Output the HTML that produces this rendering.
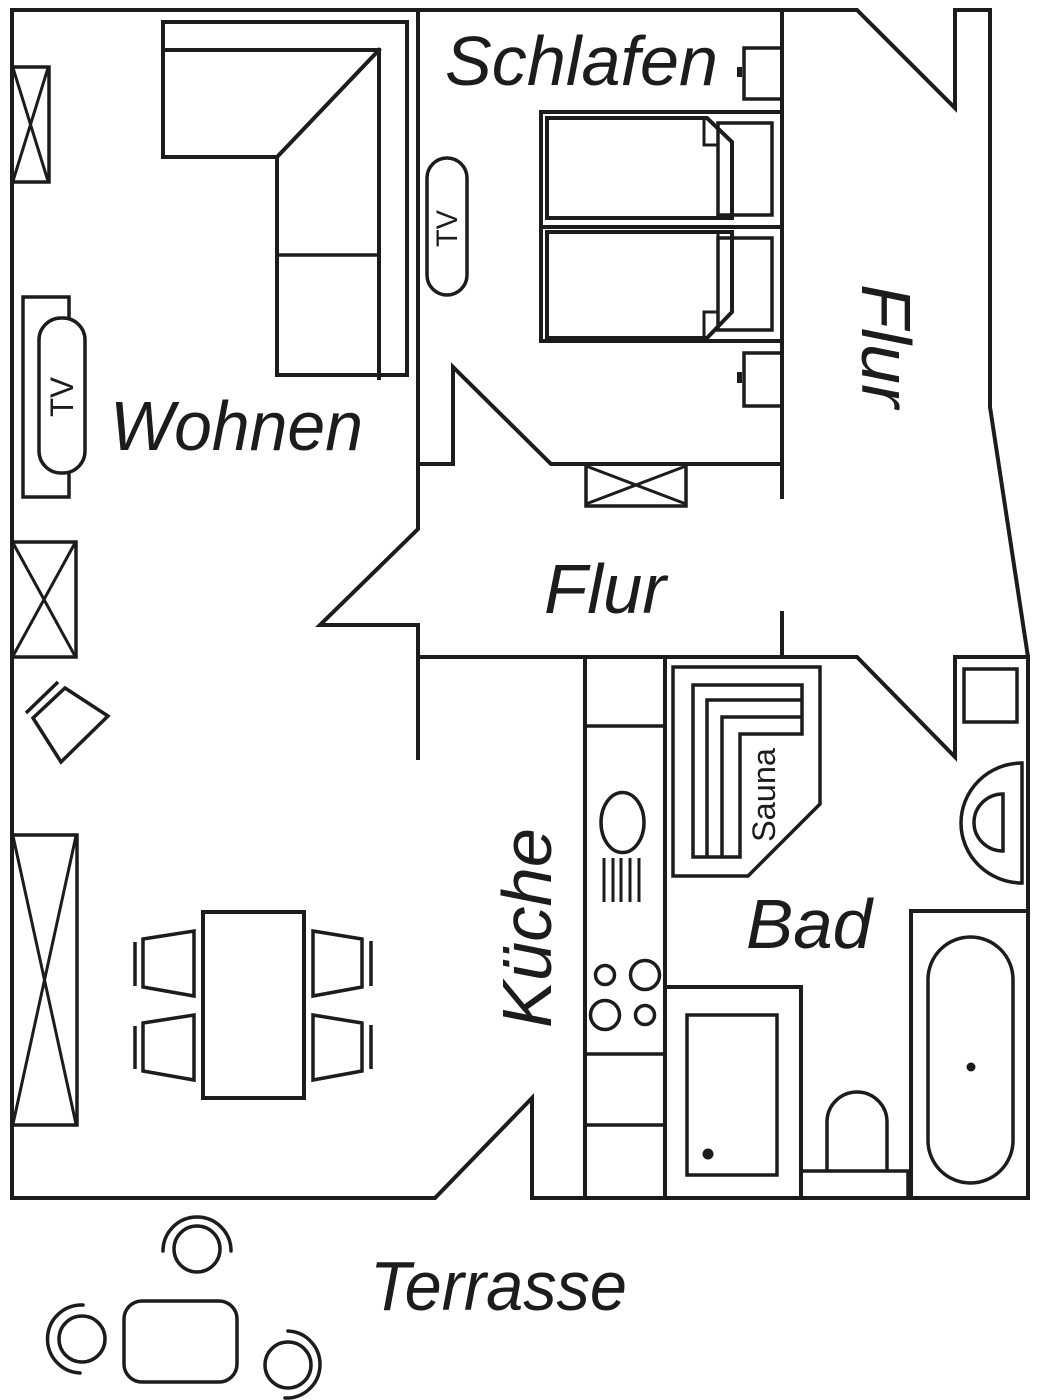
<!DOCTYPE html>
<html>
<head>
<meta charset="utf-8">
<style>
  html,body{margin:0;padding:0;background:#fff;}
  svg{display:block;}
  .w{fill:none;stroke:#1c1c1c;stroke-width:4;stroke-linejoin:miter;stroke-linecap:square;}
  .f{fill:none;stroke:#1c1c1c;stroke-width:3.5;stroke-linejoin:miter;}
  .t{fill:#1c1c1c;stroke:none;}
  .lbl{font-family:"Liberation Sans",Arial,sans-serif;font-style:italic;font-size:70px;fill:#1c1c1c;}
  .sm{font-family:"Liberation Sans",Arial,sans-serif;font-size:32px;fill:#1c1c1c;}
</style>
</head>
<body>
<svg width="1039" height="1400" viewBox="0 0 1039 1400" xmlns="http://www.w3.org/2000/svg">
  <rect x="0" y="0" width="1039" height="1400" fill="#fff"/>

  <!-- Outer walls -->
  <path class="w" d="M12,10 H857 L955,108 V10 H990 V407 L1028,657 V1198 H532 V1098 L435,1198 H12 Z"/>

  <!-- Interior walls -->
  <path class="w" d="M418,10 V529 L320,625 H418 V758"/>
  <path class="w" d="M418,464 H453 V367 L551,464 H782"/>
  <path class="w" d="M782,14 V497"/>
  <path class="w" d="M782,613 V657"/>
  <path class="w" d="M418,657 H857 L955,757 V657 H1028"/>

  <!-- Kitchen counter -->
  <path class="w" d="M585,657 V1198"/>
  <path class="w" d="M665,657 V1198"/>
  <path class="f" d="M585,726 H665 M585,1054 H665 M585,1125 H665"/>
  <ellipse class="f" cx="622.5" cy="822.5" rx="21.5" ry="30"/>
  <path class="f" style="stroke-width:3" d="M604,858 V902 M613,858 V902 M621,858 V902 M630,858 V902 M639,858 V902"/>
  <circle class="f" cx="605" cy="975" r="9.5"/>
  <circle class="f" cx="645" cy="975" r="14.5"/>
  <circle class="f" cx="605" cy="1015" r="14.5"/>
  <circle class="f" cx="645" cy="1015" r="9.5"/>

  <!-- Sauna -->
  <path class="f" d="M673,667 H820 V804 L748,876 H673 Z"/>
  <path class="f" d="M693,857 V685 H802 V734 H740 V857 Z"/>
  <path class="f" d="M707,857 V700 H802"/>
  <path class="f" d="M722,857 V717 H802"/>
  <text class="sm" transform="translate(775,842) rotate(-90)" textLength="94" lengthAdjust="spacingAndGlyphs">Sauna</text>

  <!-- Bad: square, sink -->
  <rect class="f" x="964" y="669" width="53" height="53"/>
  <path class="f" d="M1022,763 A61,60 0 0 0 1022,883 Z"/>
  <path class="f" d="M1003,794 A29,28.5 0 0 0 1003,851 Z"/>

  <!-- Shower -->
  <path class="w" d="M665,987 H801 V1198"/>
  <rect class="f" x="687" y="1015" width="90" height="160"/>
  <circle class="t" cx="708" cy="1154" r="5.5"/>

  <!-- Toilet -->
  <path class="f" d="M801,1171 H908 V1198"/>
  <path class="f" d="M827,1171 V1122 A30,30 0 0 1 887,1122 V1171"/>

  <!-- Bathtub -->
  <path class="w" d="M911,1198 V911 H1028"/>
  <rect class="f" x="928" y="937" width="85" height="246" rx="42.5" ry="42.5"/>
  <circle class="t" cx="971" cy="1067" r="4.5"/>

  <!-- Schlafen furniture -->
  <rect class="f" x="744" y="48" width="38" height="51"/>
  <rect class="t" x="737" y="67" width="5" height="10"/>
  <rect class="f" x="744" y="353" width="38" height="53"/>
  <rect class="t" x="737" y="372" width="5" height="11"/>
  <rect class="w" x="541" y="112" width="241" height="229"/>
  <path class="w" d="M541,227 H782"/>
  <!-- bed 1 -->
  <path class="w" d="M547,118 H707 L732,142 V218 H547 Z"/>
  <path class="f" style="stroke-width:3" d="M704,118 V145 H718 V218"/>
  <rect class="f" x="718" y="123" width="54" height="92"/>
  <!-- bed 2 -->
  <path class="w" d="M547,232 H732 V312 L707,338 H547 Z"/>
  <path class="f" style="stroke-width:3" d="M718,232 V312 H704 V338"/>
  <rect class="f" x="718" y="238" width="54" height="92"/>
  <!-- Schlafen window -->
  <rect class="f" x="586" y="464" width="100" height="42"/>
  <path class="f" style="stroke-width:3" d="M586,466 L686,504 M686,466 L586,504"/>

  <!-- TV (Schlafen wall) -->
  <rect class="f" x="427" y="158" width="40" height="137" rx="20" ry="20"/>
  <text class="sm" style="font-size:30px" transform="translate(457,247) rotate(-90)" textLength="37" lengthAdjust="spacingAndGlyphs">TV</text>

  <!-- Wohnen: window 1 -->
  <rect class="f" x="12" y="67" width="37" height="115"/>
  <path class="f" style="stroke-width:3" d="M13,68 L48,181 M48,68 L13,181"/>

  <!-- Sofa -->
  <path class="w" d="M163,22 H407 V375 H277 V157 H163 Z"/>
  <path class="w" d="M163,50 H379 V378"/>
  <path class="w" d="M379,50 L277,157"/>
  <path class="f" d="M277,255 H379"/>

  <!-- TV cabinet -->
  <rect class="f" x="23" y="297" width="46" height="200"/>
  <rect class="f" x="39" y="318" width="46" height="155" rx="22" ry="22" style="fill:#fff"/>
  <text class="sm" transform="translate(73,417) rotate(-90)" textLength="40" lengthAdjust="spacingAndGlyphs">TV</text>

  <!-- Window 2 -->
  <rect class="f" x="12" y="542" width="64" height="115"/>
  <path class="f" style="stroke-width:3" d="M13,543 L75,656 M75,543 L13,656"/>

  <!-- Diamond -->
  <path class="f" d="M65,688 L108,716 L61,762 L33,718 Z"/>
  <path class="f" d="M26,713 L58,682"/>

  <!-- Big window -->
  <rect class="f" x="12" y="835" width="65" height="290"/>
  <path class="f" style="stroke-width:3" d="M13,836 L76,1124 M76,836 L13,1124"/>

  <!-- Dining table and chairs -->
  <rect class="w" x="203" y="912" width="101" height="186"/>
  <path class="f" d="M143,939 L194,931 V996 L143,987 Z"/>
  <path class="f" d="M135,942 V986"/>
  <path class="f" d="M143,1023 L194,1015 V1080 L143,1071 Z"/>
  <path class="f" d="M135,1026 V1069"/>
  <path class="f" d="M313,931 L362,939 V987 L313,996 Z"/>
  <path class="f" d="M371,941 V986"/>
  <path class="f" d="M313,1015 L362,1023 V1071 L313,1080 Z"/>
  <path class="f" d="M371,1025 V1069"/>

  <!-- Terrace furniture -->
  <circle class="f" cx="197" cy="1249" r="23"/>
  <path class="f" style="stroke-linecap:round" d="M163,1251 A34,34 0 0 1 231,1251"/>
  <circle class="f" cx="82" cy="1339" r="23"/>
  <path class="f" style="stroke-linecap:round" d="M83,1305 A34,34 0 0 0 80,1373"/>
  <circle class="f" cx="288" cy="1365" r="23"/>
  <path class="f" style="stroke-linecap:round" d="M288,1331 A33,33 0 0 1 285,1398"/>
  <rect class="f" x="124" y="1301" width="113" height="81" rx="18" ry="18"/>

  <!-- Room labels -->
  <text class="lbl" x="445" y="85" textLength="273" lengthAdjust="spacingAndGlyphs">Schlafen</text>
  <text class="lbl" x="110" y="450" textLength="253" lengthAdjust="spacingAndGlyphs">Wohnen</text>
  <text class="lbl" x="544" y="613" textLength="122" lengthAdjust="spacingAndGlyphs">Flur</text>
  <text class="lbl" transform="translate(862,284) rotate(90)" textLength="124" lengthAdjust="spacingAndGlyphs">Flur</text>
  <text class="lbl" transform="translate(551,1028) rotate(-90)" textLength="200" lengthAdjust="spacingAndGlyphs">Küche</text>
  <text class="lbl" x="746" y="948" textLength="126" lengthAdjust="spacingAndGlyphs">Bad</text>
  <text class="lbl" x="370" y="1310" textLength="257" lengthAdjust="spacingAndGlyphs">Terrasse</text>
</svg>
</body>
</html>
